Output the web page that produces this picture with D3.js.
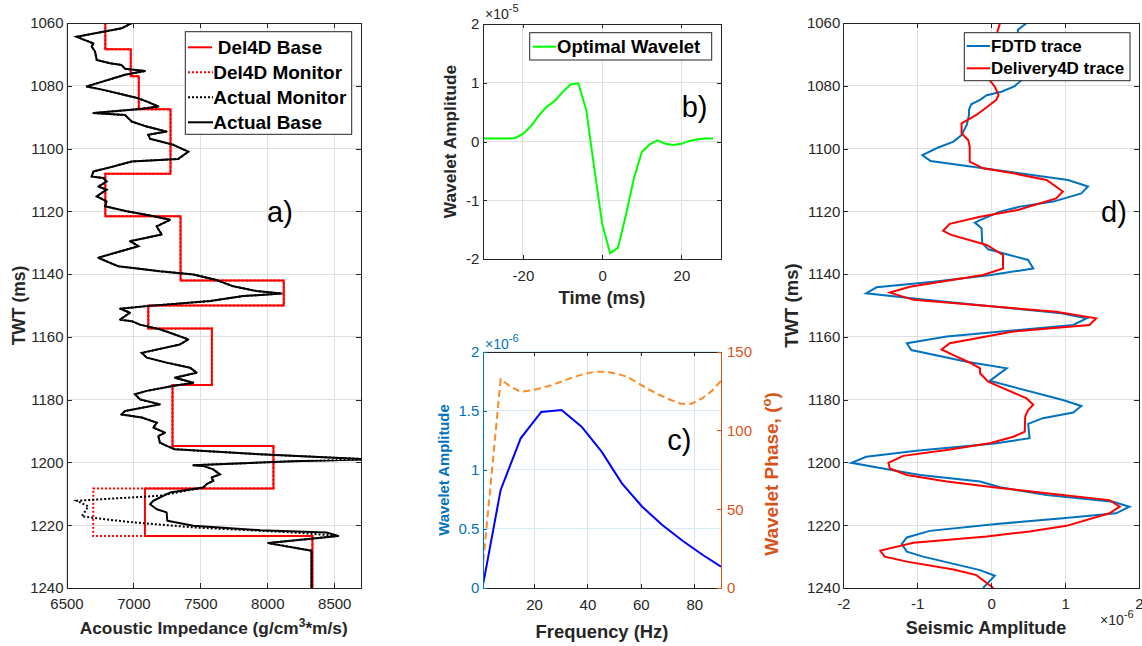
<!DOCTYPE html>
<html><head><meta charset="utf-8">
<script src="https://cdn.jsdelivr.net/npm/d3@7"></script>
<style>body{margin:0;background:#fff}svg{display:block}</style>
</head><body><svg id="fig" width="1142" height="646"></svg>
<script>
// ---------------- DATA ----------------
// panel a) acoustic impedance logs
const twtTicks = [1060,1080,1100,1120,1140,1160,1180,1200,1220,1240];
const aiTicks = [6500,7000,7500,8000,8500];
const delTops = [1060,1068.4,1077,1087.5,1108,1121.6,1142,1150,1157.3,1175.3,1194.8,1208.3,1223.4];
const delBaseAI = [6790,6980,7040,7277,6790,7352,8123,7111,7586,7292,8046,7086,8337];
const delMonitorAI = [6790,6980,7040,7277,6790,7352,8123,7111,7586,7292,8046,6700,8337];
const actualBaseTWT = [1060,1061.7,1064.4,1066.5,1067.5,1069.1,1071.8,1072.8,1073.4,1074.6,1075.3,1076.5,1080.2,1081.3,1084,1085.2,1086.6,1087.4,1088.7,1089.3,1091.4,1093,1094.6,1095.6,1096.9,1098.8,1101,1103.3,1104.1,1105.7,1107.3,1108.9,1109.4,1110.5,1112.1,1113.1,1115.2,1116.8,1118.4,1120,1121.3,1122.7,1124.8,1127.4,1129.5,1131.1,1134.3,1134.8,1136.4,1137.5,1139.1,1140.1,1141.9,1143.9,1145.4,1146.2,1147,1148.6,1150.2,1151,1152.3,1154.5,1155,1156.1,1157.6,1158.7,1160.8,1162.4,1165.1,1166.6,1168.2,1169.8,1171.4,1173,1174.6,1175.7,1177.2,1178.3,1179.9,1181.5,1183.6,1184.7,1185.7,1187.3,1188.9,1190.5,1191.6,1193.7,1194.7,1195.8,1197.4,1199,1199.6,1200.9,1201.1,1202.2,1203.8,1204.8,1205.9,1206.9,1208,1209.6,1212.2,1213.3,1214.9,1215.9,1218.6,1220.2,1221.6,1222.3,1223.4,1225.7,1228.1,1240];
const actualBaseAI = [6987,6912,6576,6701,6688,6713,6726,6825,6912,6937,7086,6937,6651,6775,7037,7111,7186,7049,6701,6937,6987,7099,7248,7111,7124,7298,7410,7335,6987,6850,6701,6688,6775,6800,6738,6800,6726,6800,6788,6950,7124,7273,7174,7211,6974,7037,6775,6738,6825,6887,7198,7447,7621,7746,7920,8107,7820,7572,7099,6900,6974,6900,6987,7049,7198,7273,7410,7348,7062,7099,7248,7422,7472,7310,7447,7285,7099,7012,7049,7198,6937,6912,7062,7174,7149,7236,7186,7198,7248,7310,7945,8760,8194,7447,7522,7596,7646,7584,7596,7547,7522,7273,7149,7124,7174,7248,7253,7447,7945,8442,8530,8007,8330,8330];
// monitor differs from base only inside the reservoir interval
const monitorTWT = [1210.6,1212.2,1214,1217.2,1218.9,1220.7,1222.3];
const monitorAI = [7198,6576,6663,6614,6950,7447,8194];

// panel b) optimal wavelet (x1e-5)
const waveletTime = [-30,-28,-26,-24,-22,-20,-18,-16,-14,-12,-10,-8,-6,-4,-2,0,2,4,6,8,10,12,14,16,18,20,22,24,26,28];
const waveletAmp = [0.05,0.05,0.05,0.05,0.06,0.13,0.26,0.44,0.59,0.69,0.84,0.97,0.99,0.53,-0.45,-1.4,-1.9,-1.81,-1.25,-0.63,-0.18,-0.05,0.02,-0.04,-0.06,-0.04,0.01,0.04,0.05,0.05];
const bTimeTicks = [-20,0,20];
const bAmpTicks = [-2,-1,0,1,2];

// panel c) wavelet spectrum (amplitude x1e-6, phase in degrees)
const specFreq = [1,7.5,15,22.7,30.3,37.8,45.3,52.9,60.5,68,75.6,83.2,90];
const specAmp = [0.04,0.83,1.267,1.49,1.507,1.365,1.154,0.886,0.688,0.533,0.40,0.279,0.18];
const phaseFreq = [1,7.5,11,15,19,23,27,31,35,39,43,47,51,55,59,63,67,71,75,79,83,86.5,90];
const phaseDeg = [17,132.5,128,124.5,125.5,127,129,131.5,134,136,137.3,137.3,136,134,130,126,122.5,119.5,117,117,120.5,125,131.5];
const freqTicks = [20,40,60,80];
const cAmpTicks = [0,0.5,1,1.5,2];
const phaseTicks = [0,50,100,150];

// panel d) seismic traces (x1e-6)
const fdtdTWT = [1060,1062.2,1066,1070,1074,1078,1080.1,1081.9,1083,1084.5,1085.9,1087.7,1089.3,1092.5,1095.7,1097.8,1099.9,1102.1,1104,1110,1112.1,1114.3,1116.9,1118.5,1120.1,1122.8,1123.6,1125.4,1130.2,1132.1,1133.7,1135.5,1138.2,1140.3,1142.4,1144.2,1146.1,1148,1152.5,1154.1,1156.2,1159.9,1162,1164.2,1167.9,1170,1174,1180.1,1182,1184.1,1185.9,1187.7,1192.3,1194,1196.2,1198.2,1200.1,1202.4,1204,1206.1,1207.9,1210.4,1212.5,1214.1,1216.2,1217.8,1219.6,1221.8,1223.9,1226,1228.4,1230,1234.3,1236.1,1240];
const fdtdAmp = [0.48,0.36,0.38,0.42,0.45,0.42,0.32,0.14,-0.06,-0.15,-0.27,-0.3,-0.3,-0.33,-0.4,-0.51,-0.74,-0.93,-0.82,1.04,1.31,1.22,0.84,0.39,0.12,-0.15,-0.22,-0.13,-0.12,-0.04,0.21,0.5,0.57,0,-0.78,-1.55,-1.69,-0.95,0.95,1.29,1.11,-0.6,-1.14,-1.08,-0.33,0.21,-0.02,0.97,1.22,1.11,0.7,0.5,0.52,0.05,-0.98,-1.69,-1.89,-1.35,-0.96,-0.15,0.12,0.75,1.65,1.87,1.69,0.97,0.07,-0.83,-1.14,-1.21,-1.14,-0.92,-0.15,0.05,-0.11];
const del4dTWT = [1060,1064,1068,1072,1076,1078.2,1080.3,1082.9,1084.5,1086.1,1089.3,1092,1095.2,1097.3,1099.4,1104.2,1106.3,1107.9,1110,1113.7,1115.9,1119.6,1121.7,1124,1126.2,1127.5,1130.7,1133.9,1138.2,1140.3,1144,1145.9,1148.2,1152,1154.1,1156.2,1158.3,1162,1164,1165.8,1168.4,1170,1171.6,1174.3,1175.9,1179.6,1181.6,1183.3,1185.4,1190.2,1191.8,1193.9,1196,1197.9,1200.1,1201.9,1204,1206.1,1207.9,1209.8,1212,1214.1,1216.2,1220.2,1222,1223.6,1225.6,1228.1,1230,1231.6,1234.1,1235.9,1240];
const del4dAmp = [0.12,0.07,0.02,-0.03,-0.04,-0.02,0.05,0.1,0.07,-0.02,-0.2,-0.4,-0.4,-0.31,-0.29,-0.29,-0.11,0.3,0.75,0.97,0.88,0.36,-0.15,-0.56,-0.65,-0.54,-0.06,0.16,0.16,-0.11,-1.1,-1.37,-1.05,0.88,1.42,1.33,0.3,-0.56,-0.67,-0.51,-0.27,-0.15,-0.15,-0.04,0.12,0.48,0.57,0.5,0.46,0.455,0.3,-0.02,-0.6,-1.19,-1.39,-1.37,-1.14,-0.6,0.03,0.75,1.6,1.74,1.6,1.02,0.52,-0.06,-1.05,-1.5,-1.44,-1.14,-0.51,-0.2,0.03];
const seisTicks = [-2,-1,0,1,2];

// ---------------- DRAWING ----------------
const svg = d3.select("#fig");
const FONT = '"Liberation Sans", Arial, Helvetica, sans-serif';
const AX = "#262626", GRID = "#dfdfdf", BLUE_AX = "#0072BD", ORANGE_AX = "#D95319";
const fmt = d => String(d);

function clip(id, x, y) {
  const [L, R] = x.range(); const T = Math.min(...y.range()), B = Math.max(...y.range());
  svg.append("clipPath").attr("id", id).append("rect").attr("x", L).attr("y", T).attr("width", R - L).attr("height", B - T);
  return svg.append("g").attr("clip-path", `url(#${id})`);
}
function grid(x, y, xt, yt, colX, colY) {
  const [L, R] = x.range(); const T = Math.min(...y.range()), B = Math.max(...y.range());
  const g = svg.append("g").attr("shape-rendering", "crispEdges");
  g.selectAll(".gx").data(xt).join("line").attr("x1", d => x(d)).attr("x2", d => x(d)).attr("y1", T).attr("y2", B).attr("stroke", colX || GRID);
  g.selectAll(".gy").data(yt).join("line").attr("y1", d => y(d)).attr("y2", d => y(d)).attr("x1", L).attr("x2", R).attr("stroke", colY || GRID);
}
function mk(axis, tx, ty, color, fs) {
  const a = svg.append("g").attr("transform", `translate(${tx},${ty})`).call(axis);
  a.attr("font-family", null).attr("font-size", null);
  a.select(".domain").attr("stroke", color).attr("shape-rendering", "crispEdges");
  a.selectAll(".tick line").attr("stroke", color).attr("shape-rendering", "crispEdges");
  a.selectAll(".tick text").attr("fill", color).style("font-family", FONT).style("font-size", (fs || 15) + "px");
  return a;
}
function axes(x, y, o) {
  const [L, R] = x.range(); const T = Math.min(...y.range()), B = Math.max(...y.range());
  const ts = o.tick;
  mk(d3.axisBottom(x).tickValues(o.xTicks).tickSize(-ts).tickSizeOuter(0).tickPadding(o.xPad || 10).tickFormat(o.xFmt || fmt), 0, B, AX);
  mk(d3.axisTop(x).tickValues(o.xTicks).tickSize(-ts).tickSizeOuter(0).tickFormat(""), 0, T, AX);
  mk(d3.axisLeft(y).tickValues(o.yTicks).tickSize(-ts).tickSizeOuter(0).tickPadding(o.yPad || 3).tickFormat(o.yFmt || fmt), L, 0, o.leftColor || AX);
  if (o.right) mk(d3.axisRight(o.right).tickValues(o.rTicks).tickSize(-ts).tickSizeOuter(0).tickPadding(6).tickFormat(fmt), R, 0, ORANGE_AX);
  else mk(d3.axisRight(y).tickValues(o.yTicks).tickSize(-ts).tickSizeOuter(0).tickFormat(""), R, 0, AX);
}
function label(txt, x, y, fs, opt = {}) {
  const t = svg.append("text").attr("x", x).attr("y", y).attr("text-anchor", opt.anchor || "middle")
    .style("font-family", FONT).style("font-size", fs + "px").style("font-weight", opt.weight || "bold")
    .attr("fill", opt.color || AX);
  if (opt.rot) t.attr("transform", `rotate(-90,${x},${y})`);
  t.text(txt);
  return t;
}
function sci(x, y, exp, color) {
  const t = svg.append("text").attr("x", x).attr("y", y).style("font-family", FONT).style("font-size", "14px").attr("fill", color);
  t.append("tspan").text("\u00d710");
  t.append("tspan").attr("dy", -7).style("font-size", "11px").text(exp);
}
function legend(box, items, fs) {
  const g = svg.append("g");
  g.append("rect").attr("x", box[0]).attr("y", box[1]).attr("width", box[2]).attr("height", box[3]).attr("fill", "#fff").attr("stroke", AX).attr("stroke-width", 1);
  items.forEach(it => {
    g.append("line").attr("x1", it.x1).attr("x2", it.x2).attr("y1", it.y).attr("y2", it.y).attr("stroke", it.color).attr("stroke-width", 2).attr("stroke-dasharray", it.dash || null);
    g.append("text").attr("x", it.tx).attr("y", it.y).attr("dy", "0.35em").style("font-family", FONT).style("font-size", fs + "px").style("font-weight", "bold").attr("fill", "#000").text(it.label);
  });
}

// ===== Panel a =====
const xa = d3.scaleLinear().domain([6500, 8700]).range([66.5, 361]);
const ya = d3.scaleLinear().domain([1060, 1240]).range([23, 588]);
grid(xa, ya, aiTicks, twtTicks);
const ca = clip("clipA", xa, ya);
function steps(tops, vals, end) {
  const pts = [];
  tops.forEach((t, i) => { pts.push([vals[i], t]); pts.push([vals[i], i < tops.length - 1 ? tops[i + 1] : end]); });
  return pts;
}
const lineA = d3.line().x(d => xa(d[0])).y(d => ya(d[1]));
const basePts = actualBaseTWT.map((t, i) => [actualBaseAI[i], t]);
const monPts = basePts.filter(p => p[1] <= 1208).concat(monitorTWT.map((t, i) => [monitorAI[i], t])).concat(basePts.filter(p => p[1] >= 1223.4));
ca.append("path").attr("d", lineA(steps(delTops, delBaseAI, 1240))).attr("fill", "none").attr("stroke", "#ff0000").attr("stroke-width", 2);
ca.append("path").attr("d", lineA(steps(delTops, delMonitorAI, 1240))).attr("fill", "none").attr("stroke", "#ff0000").attr("stroke-width", 2).attr("stroke-dasharray", "2,2");
ca.append("path").attr("d", lineA(monPts)).attr("fill", "none").attr("stroke", "#000").attr("stroke-width", 2).attr("stroke-dasharray", "2,2");
ca.append("path").attr("d", lineA(basePts)).attr("fill", "none").attr("stroke", "#000").attr("stroke-width", 2).attr("stroke-linejoin", "round");
axes(xa, ya, { tick: 5, xTicks: aiTicks, yTicks: twtTicks, xPad: 10 });
legend([185.3, 31.7, 166.4, 102.6], [
  { label: "Del4D Base", color: "#ff0000", y: 47.3, x1: 188, x2: 212, tx: 217.7 },
  { label: "Del4D Monitor", color: "#ff0000", dash: "2,2", y: 72.3, x1: 188, x2: 213, tx: 213.3 },
  { label: "Actual Monitor", color: "#000", dash: "2,2", y: 97.3, x1: 188, x2: 213, tx: 213.3 },
  { label: "Actual Base", color: "#000", y: 122.3, x1: 188, x2: 213, tx: 213.3 }], 19);
{
  const t = svg.append("text").attr("x", 213.7).attr("y", 634).attr("text-anchor", "middle").style("font-family", FONT).style("font-size", "17.3px").style("font-weight", "bold").attr("fill", AX);
  t.append("tspan").text("Acoustic Impedance (g/cm");
  t.append("tspan").attr("dy", -7).style("font-size", "12px").text("3");
  t.append("tspan").attr("dy", 7).text("*m/s)");
}
label("TWT (ms)", 25, 305.5, 17.5, { rot: true });
label("a)", 267, 222, 29, { anchor: "start", weight: "normal", color: "#000" });

// ===== Panel b =====
const xb = d3.scaleLinear().domain([-30, 30]).range([483.3, 721]);
const yb = d3.scaleLinear().domain([-2, 2]).range([259, 24]);
grid(xb, yb, bTimeTicks, bAmpTicks);
const cb = clip("clipB", xb, yb);
cb.append("path").attr("d", d3.line().x((d, i) => xb(waveletTime[i])).y(d => yb(d))(waveletAmp)).attr("fill", "none").attr("stroke", "#00ff00").attr("stroke-width", 2);
axes(xb, yb, { tick: 4, xTicks: bTimeTicks, yTicks: bAmpTicks, xPad: 11, yPad: 4 });
legend([529.7, 32.7, 182, 27.3], [{ label: "Optimal Wavelet", color: "#00ff00", y: 46.7, x1: 532.7, x2: 556, tx: 557 }], 18.5);
sci(485, 19, "-5", AX);
label("Time (ms)", 602, 304, 18.5);
label("Wavelet Amplitude", 456, 141.5, 17.3, { rot: true });
label("b)", 681.7, 117, 29, { anchor: "start", weight: "normal", color: "#000" });

// ===== Panel c =====
const xc = d3.scaleLinear().domain([1, 90]).range([483.3, 721]);
const yc = d3.scaleLinear().domain([0, 2]).range([588, 351.7]);
const yp = d3.scaleLinear().domain([0, 150]).range([588, 351.7]);
grid(xc, yc, freqTicks, cAmpTicks, GRID, "#d9eaf5");
const cc = clip("clipC", xc, yc);
cc.append("path").attr("d", d3.line().x((d, i) => xc(phaseFreq[i])).y(d => yp(d))(phaseDeg)).attr("fill", "none").attr("stroke", "#fb8b24").attr("stroke-width", 2).attr("stroke-dasharray", "7,4");
cc.append("path").attr("d", d3.line().x((d, i) => xc(specFreq[i])).y(d => yc(d))(specAmp)).attr("fill", "none").attr("stroke", "#0000ff").attr("stroke-width", 2);
axes(xc, yc, { tick: 4, xTicks: freqTicks, yTicks: cAmpTicks, xPad: 11, yPad: 4, leftColor: BLUE_AX, right: yp, rTicks: phaseTicks });
sci(485, 349, "-6", BLUE_AX);
label("Frequency (Hz)", 602, 638, 18.4);
label("Wavelet Amplitude", 448.5, 470, 14.8, { rot: true, color: BLUE_AX });
{
  const t = svg.append("text").attr("x", 778).attr("y", 474).attr("text-anchor", "middle").attr("transform", "rotate(-90,778,474)")
    .style("font-family", FONT).style("font-size", "19px").style("font-weight", "bold").attr("fill", ORANGE_AX);
  t.append("tspan").text("Wavelet Phase, (");
  t.append("tspan").attr("dy", -7).style("font-size", "13px").text("o");
  t.append("tspan").attr("dy", 7).text(")");
}
label("c)", 667.3, 450, 29, { anchor: "start", weight: "normal", color: "#000" });

// ===== Panel d =====
const xd = d3.scaleLinear().domain([-2, 2]).range([843.3, 1139]);
const yd = d3.scaleLinear().domain([1060, 1240]).range([23, 588]);
grid(xd, yd, seisTicks, twtTicks);
const cd = clip("clipD", xd, yd);
const lineD = (T, A) => d3.line().x((d, i) => xd(A[i])).y(d => yd(d))(T);
cd.append("path").attr("d", lineD(fdtdTWT, fdtdAmp)).attr("fill", "none").attr("stroke", "#0072BD").attr("stroke-width", 2);
cd.append("path").attr("d", lineD(del4dTWT, del4dAmp)).attr("fill", "none").attr("stroke", "#ff0000").attr("stroke-width", 2);
axes(xd, yd, { tick: 5, xTicks: seisTicks, yTicks: twtTicks, xPad: 10 });
legend([964.3, 32.7, 165.7, 48], [
  { label: "FDTD trace", color: "#0072BD", y: 46, x1: 966.7, x2: 990, tx: 991 },
  { label: "Delivery4D trace", color: "#ff0000", y: 68.3, x1: 966.7, x2: 990, tx: 991 }], 17);
sci(1100, 624.5, "-6", AX);
label("Seismic Amplitude", 986, 633.5, 18);
label("TWT (ms)", 798, 305.5, 18.5, { rot: true });
label("d)", 1101, 222, 29, { anchor: "start", weight: "normal", color: "#000" });
</script></body></html>
